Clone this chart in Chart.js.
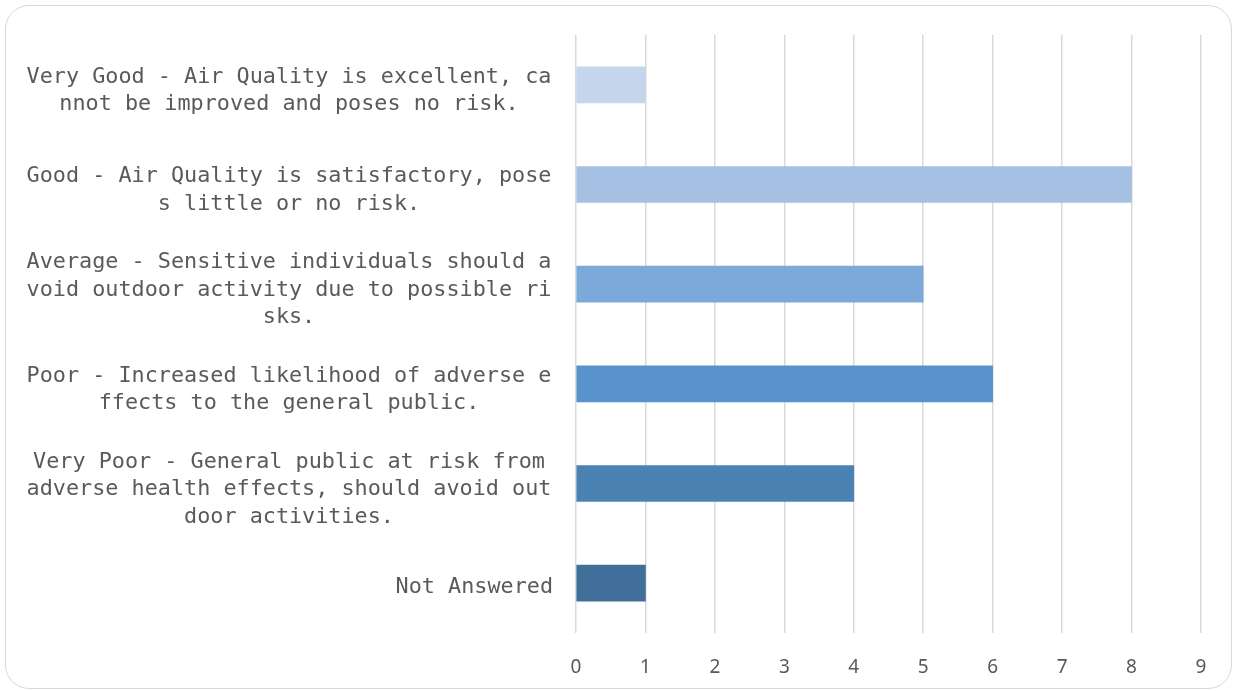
<!DOCTYPE html>
<html>
<head>
<meta charset="utf-8">
<script src="https://cdn.jsdelivr.net/npm/chart.js@4"></script>
<style>
  html, body { margin: 0; padding: 0; background: #fff; }
  #wrap { position: relative; width: 1234px; height: 691px; overflow: hidden; }
  #card {
    position: absolute; left: 5px; top: 5px; width: 1227px; height: 684px;
    border: 1.5px solid #d9d9d9; border-radius: 24px; box-sizing: border-box;
  }
  #chart { position: absolute; left: 0; top: 0; }
</style>
</head>
<body>
<div id="wrap">
  <div id="card"></div>
  <canvas id="chart" width="1234" height="691"></canvas>
</div>
<script>
// category labels, already broken the way the original wraps them
const categories = [
  ["Very Good - Air Quality is excellent, ca", "nnot be improved and poses no risk."],
  ["Good - Air Quality is satisfactory, pose", "s little or no risk."],
  ["Average - Sensitive individuals should a", "void outdoor activity due to possible ri", "sks."],
  ["Poor - Increased likelihood of adverse e", "ffects to the general public."],
  ["Very Poor - General public at risk from", "adverse health effects, should avoid out", "door activities."],
  ["Not Answered"]
];
const responses = [1, 8, 5, 6, 4, 1];
const barColors = ["#c5d5eb", "#a5c0e3", "#7aa9da", "#5894cb", "#4b82b4", "#406f99"];
const xTicks = [0, 1, 2, 3, 4, 5, 6, 7, 8, 9];

// draws the category labels: wrapped ones centred, single-line ones right aligned
const categoryLabels = {
  id: "categoryLabels",
  afterDraw(chart) {
    const ctx = chart.ctx;
    const y = chart.scales.y;
    const right = chart.chartArea.left - 23;
    const centre = 289;
    const lineH = 27.5;
    ctx.save();
    ctx.font = "21.8px 'DejaVu Sans Mono'";
    ctx.fillStyle = "#5a5a5a";
    ctx.textBaseline = "middle";
    categories.forEach((lines, i) => {
      const mid = y.getPixelForValue(i) + 6;
      const top = mid - (lines.length - 1) * lineH / 2;
      lines.forEach((line, j) => {
        if (lines.length === 1) {
          ctx.textAlign = "right";
          ctx.fillText(line, right, top - 2 + j * lineH);
        } else {
          ctx.textAlign = "center";
          ctx.fillText(line, centre, top + j * lineH);
        }
      });
    });
    ctx.restore();
  }
};

new Chart(document.getElementById("chart"), {
  type: "bar",
  data: {
    labels: categories.map((c) => c.join(" ")),
    datasets: [{
      data: responses,
      backgroundColor: barColors,
      borderWidth: 0,
      barThickness: 36
    }]
  },
  options: {
    indexAxis: "y",
    responsive: false,
    animation: false,
    layout: { padding: { left: 576, right: 33, top: 35, bottom: 12 } },
    plugins: {
      legend: { display: false },
      tooltip: { enabled: false }
    },
    scales: {
      x: {
        min: 0,
        max: 9,
        afterBuildTicks: (scale) => { scale.ticks = xTicks.map((v) => ({ value: v })); },
        afterFit: (scale) => { scale.height = 46; },
        grid: { color: "#d9d9d9", lineWidth: 1.5, drawTicks: false },
        border: { display: false },
        ticks: {
          padding: 23,
          maxRotation: 0,
          color: "#595959",
          font: { family: "'Noto Sans'", size: 19 }
        }
      },
      y: {
        display: false
      }
    }
  },
  plugins: [categoryLabels]
});
</script>
</body>
</html>
